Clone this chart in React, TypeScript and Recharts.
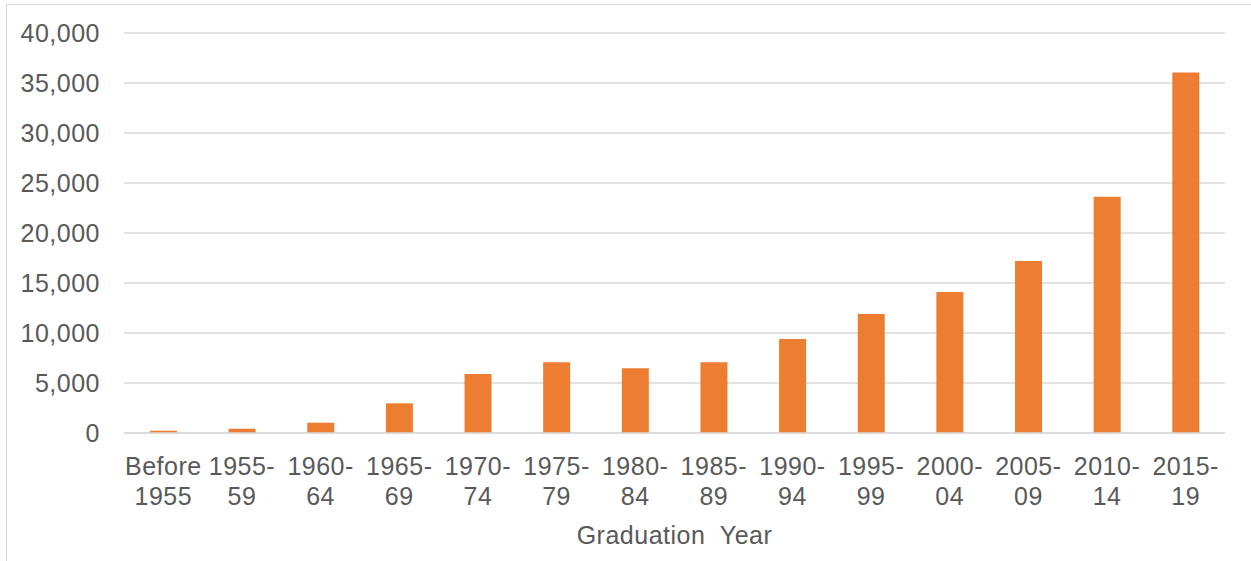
import React from "react";
import { BarChart, Bar, XAxis, YAxis, CartesianGrid } from "recharts";

// graduation year buckets and counts
const categories = [
  "Before 1955",
  "1955-59",
  "1960-64",
  "1965-69",
  "1970-74",
  "1975-79",
  "1980-84",
  "1985-89",
  "1990-94",
  "1995-99",
  "2000-04",
  "2005-09",
  "2010-14",
  "2015-19",
];
const counts = [230, 430, 1030, 2970, 5900, 7070, 6470, 7070, 9400, 11900, 14100, 17200, 23630, 36050];
const yTicks = [0, 5000, 10000, 15000, 20000, 25000, 30000, 35000, 40000];

const data = categories.map((c, i) => ({ name: c, value: counts[i] }));

const TEXT = "#595959";
const FONT = "'Liberation Sans', Arial, sans-serif";
const FS = 25;

function CategoryTick(props: any) {
  const { x, y, payload } = props;
  const label: string = payload.value;
  let lines: string[];
  if (label.includes("-")) {
    const idx = label.indexOf("-");
    lines = [label.slice(0, idx + 1), label.slice(idx + 1)];
  } else {
    lines = label.split(" ");
  }
  return (
    <text
      x={x}
      y={y}
      textAnchor="middle"
      fill={TEXT}
      fontSize={FS}
      fontFamily={FONT}
      letterSpacing={0.5}
    >
      <tspan x={x} dy={42}>{lines[0]}</tspan>
      <tspan x={x} dy={30}>{lines[1]}</tspan>
    </text>
  );
}

export default function App() {
  return (
    <div
      style={{
        position: "absolute",
        left: 0,
        top: 0,
        width: 1251,
        height: 561,
        background: "#fff",
      }}
    >
      <div
        style={{
          position: "absolute",
          left: 6,
          top: 4,
          width: 1250,
          height: 560,
          border: "1px solid #d9d9d9",
          boxSizing: "border-box",
        }}
      />
      <div style={{ position: "absolute", left: 0, top: 0 }}>
        <BarChart
          width={1251}
          height={561}
          data={data}
          margin={{ top: 33, right: 26, left: 14, bottom: 17 }}
          barCategoryGap="33%"
        >
          <CartesianGrid vertical={false} stroke="#d9d9d9" strokeWidth={1.3} />
          <XAxis
            dataKey="name"
            interval={0}
            height={111}
            tickLine={false}
            axisLine={{ stroke: "#d9d9d9", strokeWidth: 1.3 }}
            tick={<CategoryTick />}
            tickSize={0}
            tickMargin={0}
            label={{
              value: "Graduation\u00a0 Year",
              position: "insideBottom",
              offset: 0,
              fill: TEXT,
              fontSize: FS,
              fontFamily: FONT,
              letterSpacing: 0.5,
            }}
          />
          <YAxis
            width={110}
            domain={[0, 40000]}
            ticks={yTicks}
            interval={0}
            axisLine={false}
            tickLine={false}
            tickSize={0}
            tickMargin={24}
            tick={{ fill: TEXT, fontSize: FS, fontFamily: FONT, letterSpacing: 0.5 }}
            tickFormatter={(v: number) => v.toLocaleString("en-US")}
          />
          <Bar dataKey="value" fill="#ED7D31" isAnimationActive={false} />
        </BarChart>
      </div>
    </div>
  );
}
